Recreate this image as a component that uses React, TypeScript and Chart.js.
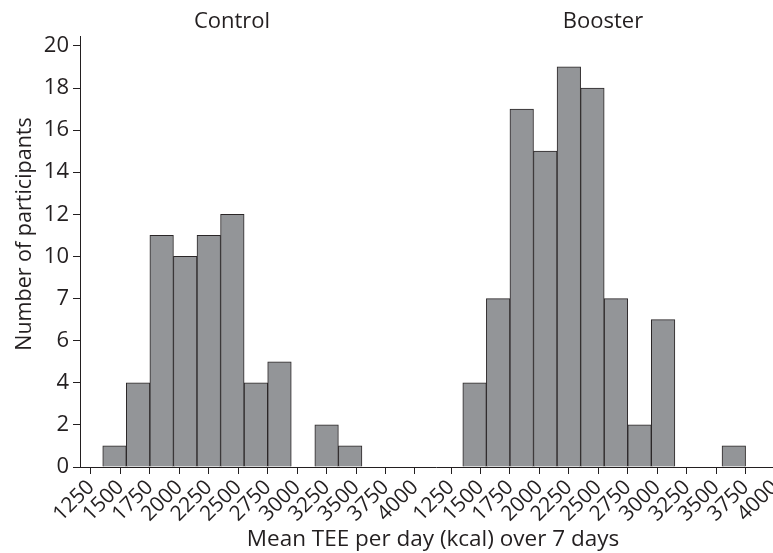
import { useEffect, useRef } from "react";
import { Chart, registerables } from "chart.js";

Chart.register(...registerables);

// Histogram bins (kcal/day), 200 kcal wide
const BIN_WIDTH = 200;
const BIN_STARTS = [1350, 1550, 1750, 1950, 2150, 2350, 2550, 2750, 2950, 3150, 3350, 3550];
const CONTROL_COUNTS = [1, 4, 11, 10, 11, 12, 4, 5, 0, 2, 1, 0];
const BOOSTER_COUNTS = [4, 8, 17, 15, 19, 18, 8, 2, 7, 0, 0, 1];

const PANEL_TITLES = ["Control", "Booster"];
const X_TICKS = [1250, 1500, 1750, 2000, 2250, 2500, 2750, 3000, 3250, 3500, 3750, 4000];
const X_TICK_LABELS = ["1250", "1500", "1750", "2000", "2250", "2500", "2750", "3000", "3250", "3500", "3750", "4000"];
const Y_TICKS = [0, 2, 4, 6, 8, 10, 12, 14, 16, 18, 20];
const Y_TICK_LABELS = ["0", "2", "4", "6", "7", "10", "12", "14", "16", "18", "20"];
const X_TITLE = "Mean TEE per day (kcal) over 7 days";
const Y_TITLE = "Number of participants";

// Both panels share one axis; the second panel is shifted along it
const X_MIN = 1157;
const PANEL_OFFSET = 3056;
const X_MAX = 7200;
const Y_MAX = 20.47;

const TEXT = "#231f20";
const BAR_FILL = "#939598";
const BAR_EDGE = "#2a2627";
const FONT = '"Open Sans", "Noto Sans", sans-serif';

const panels = [CONTROL_COUNTS, BOOSTER_COUNTS];

const titlesPlugin = {
  id: "panelTitles",
  afterDraw(chart: any) {
    const { ctx } = chart;
    ctx.save();
    ctx.fillStyle = TEXT;
    ctx.textAlign = "center";
    ctx.textBaseline = "alphabetic";
    ctx.font = `22px ${FONT}`;
    ctx.fillText(PANEL_TITLES[0], 232, 28);
    ctx.fillText(PANEL_TITLES[1], 603, 28);
    ctx.font = `22.5px ${FONT}`;
    ctx.fillText(X_TITLE, 433, 546);
    ctx.translate(31, 234);
    ctx.rotate(-Math.PI / 2);
    ctx.font = `21.5px ${FONT}`;
    ctx.fillText(Y_TITLE, 0, 0);
    ctx.restore();
  },
};

export default function App() {
  const canvasRef = useRef<HTMLCanvasElement | null>(null);

  useEffect(() => {
    const canvas = canvasRef.current;
    if (!canvas) return;

    const points: { x: number; y: number }[] = [];
    panels.forEach((counts, p) => {
      counts.forEach((c, i) => {
        if (c > 0) points.push({ x: BIN_STARTS[i] + BIN_WIDTH / 2 + p * PANEL_OFFSET, y: c });
      });
    });

    const xTickValues: number[] = [];
    const xTickText: string[] = [];
    panels.forEach((_, p) => {
      X_TICKS.forEach((t, i) => {
        xTickValues.push(t + p * PANEL_OFFSET);
        xTickText.push(X_TICK_LABELS[i]);
      });
    });

    const chart = new Chart(canvas, {
      type: "bar",
      data: {
        datasets: [
          {
            data: points as any,
            backgroundColor: BAR_FILL,
            borderColor: BAR_EDGE,
            borderWidth: 1,
            borderSkipped: "start",
            categoryPercentage: 1,
            barPercentage: 1,
          },
        ],
      },
      options: {
        responsive: false,
        animation: false,
        devicePixelRatio: 1,
        layout: { padding: { left: 0, top: 36, right: 8, bottom: 0 } },
        plugins: {
          legend: { display: false },
          tooltip: { enabled: false },
          title: { display: false },
        },
        scales: {
          x: {
            type: "linear",
            min: X_MIN,
            max: X_MAX,
            offset: false,
            grid: {
              offset: false,
              drawOnChartArea: false,
              drawTicks: true,
              tickLength: 7,
              color: TEXT,
            },
            border: { display: true, color: TEXT, width: 1 },
            afterBuildTicks(scale: any) {
              scale.ticks = xTickValues.map((v) => ({ value: v }));
            },
            afterFit(scale: any) {
              scale.height = 86;
              scale.paddingLeft = 0;
              scale.paddingRight = 0;
            },
            ticks: {
              autoSkip: false,
              minRotation: 45,
              maxRotation: 45,
              padding: 1,
              color: TEXT,
              font: { family: FONT, size: 21 },
              callback: (_v: any, i: number) => xTickText[i],
            },
          },
          y: {
            type: "linear",
            min: 0,
            max: Y_MAX,
            grid: {
              drawOnChartArea: false,
              drawTicks: true,
              tickLength: 7,
              color: TEXT,
            },
            border: { display: true, color: TEXT, width: 1 },
            afterBuildTicks(scale: any) {
              scale.ticks = Y_TICKS.map((v) => ({ value: v }));
            },
            afterFit(scale: any) {
              scale.width = 80;
              scale.paddingTop = 0;
              scale.paddingBottom = 0;
            },
            ticks: {
              padding: 4,
              color: TEXT,
              font: { family: FONT, size: 22 },
              callback: (_v: any, i: number) => Y_TICK_LABELS[i],
            },
          },
        },
      },
      plugins: [titlesPlugin],
    });

    return () => chart.destroy();
  }, []);

  return (
    <div
      style={{
        position: "absolute",
        left: 0,
        top: 0,
        width: 773,
        height: 553,
        overflow: "hidden",
        background: "#ffffff",
      }}
    >
      <canvas ref={canvasRef} width={800} height={553} style={{ display: "block", width: 800, height: 553 }} />
    </div>
  );
}
